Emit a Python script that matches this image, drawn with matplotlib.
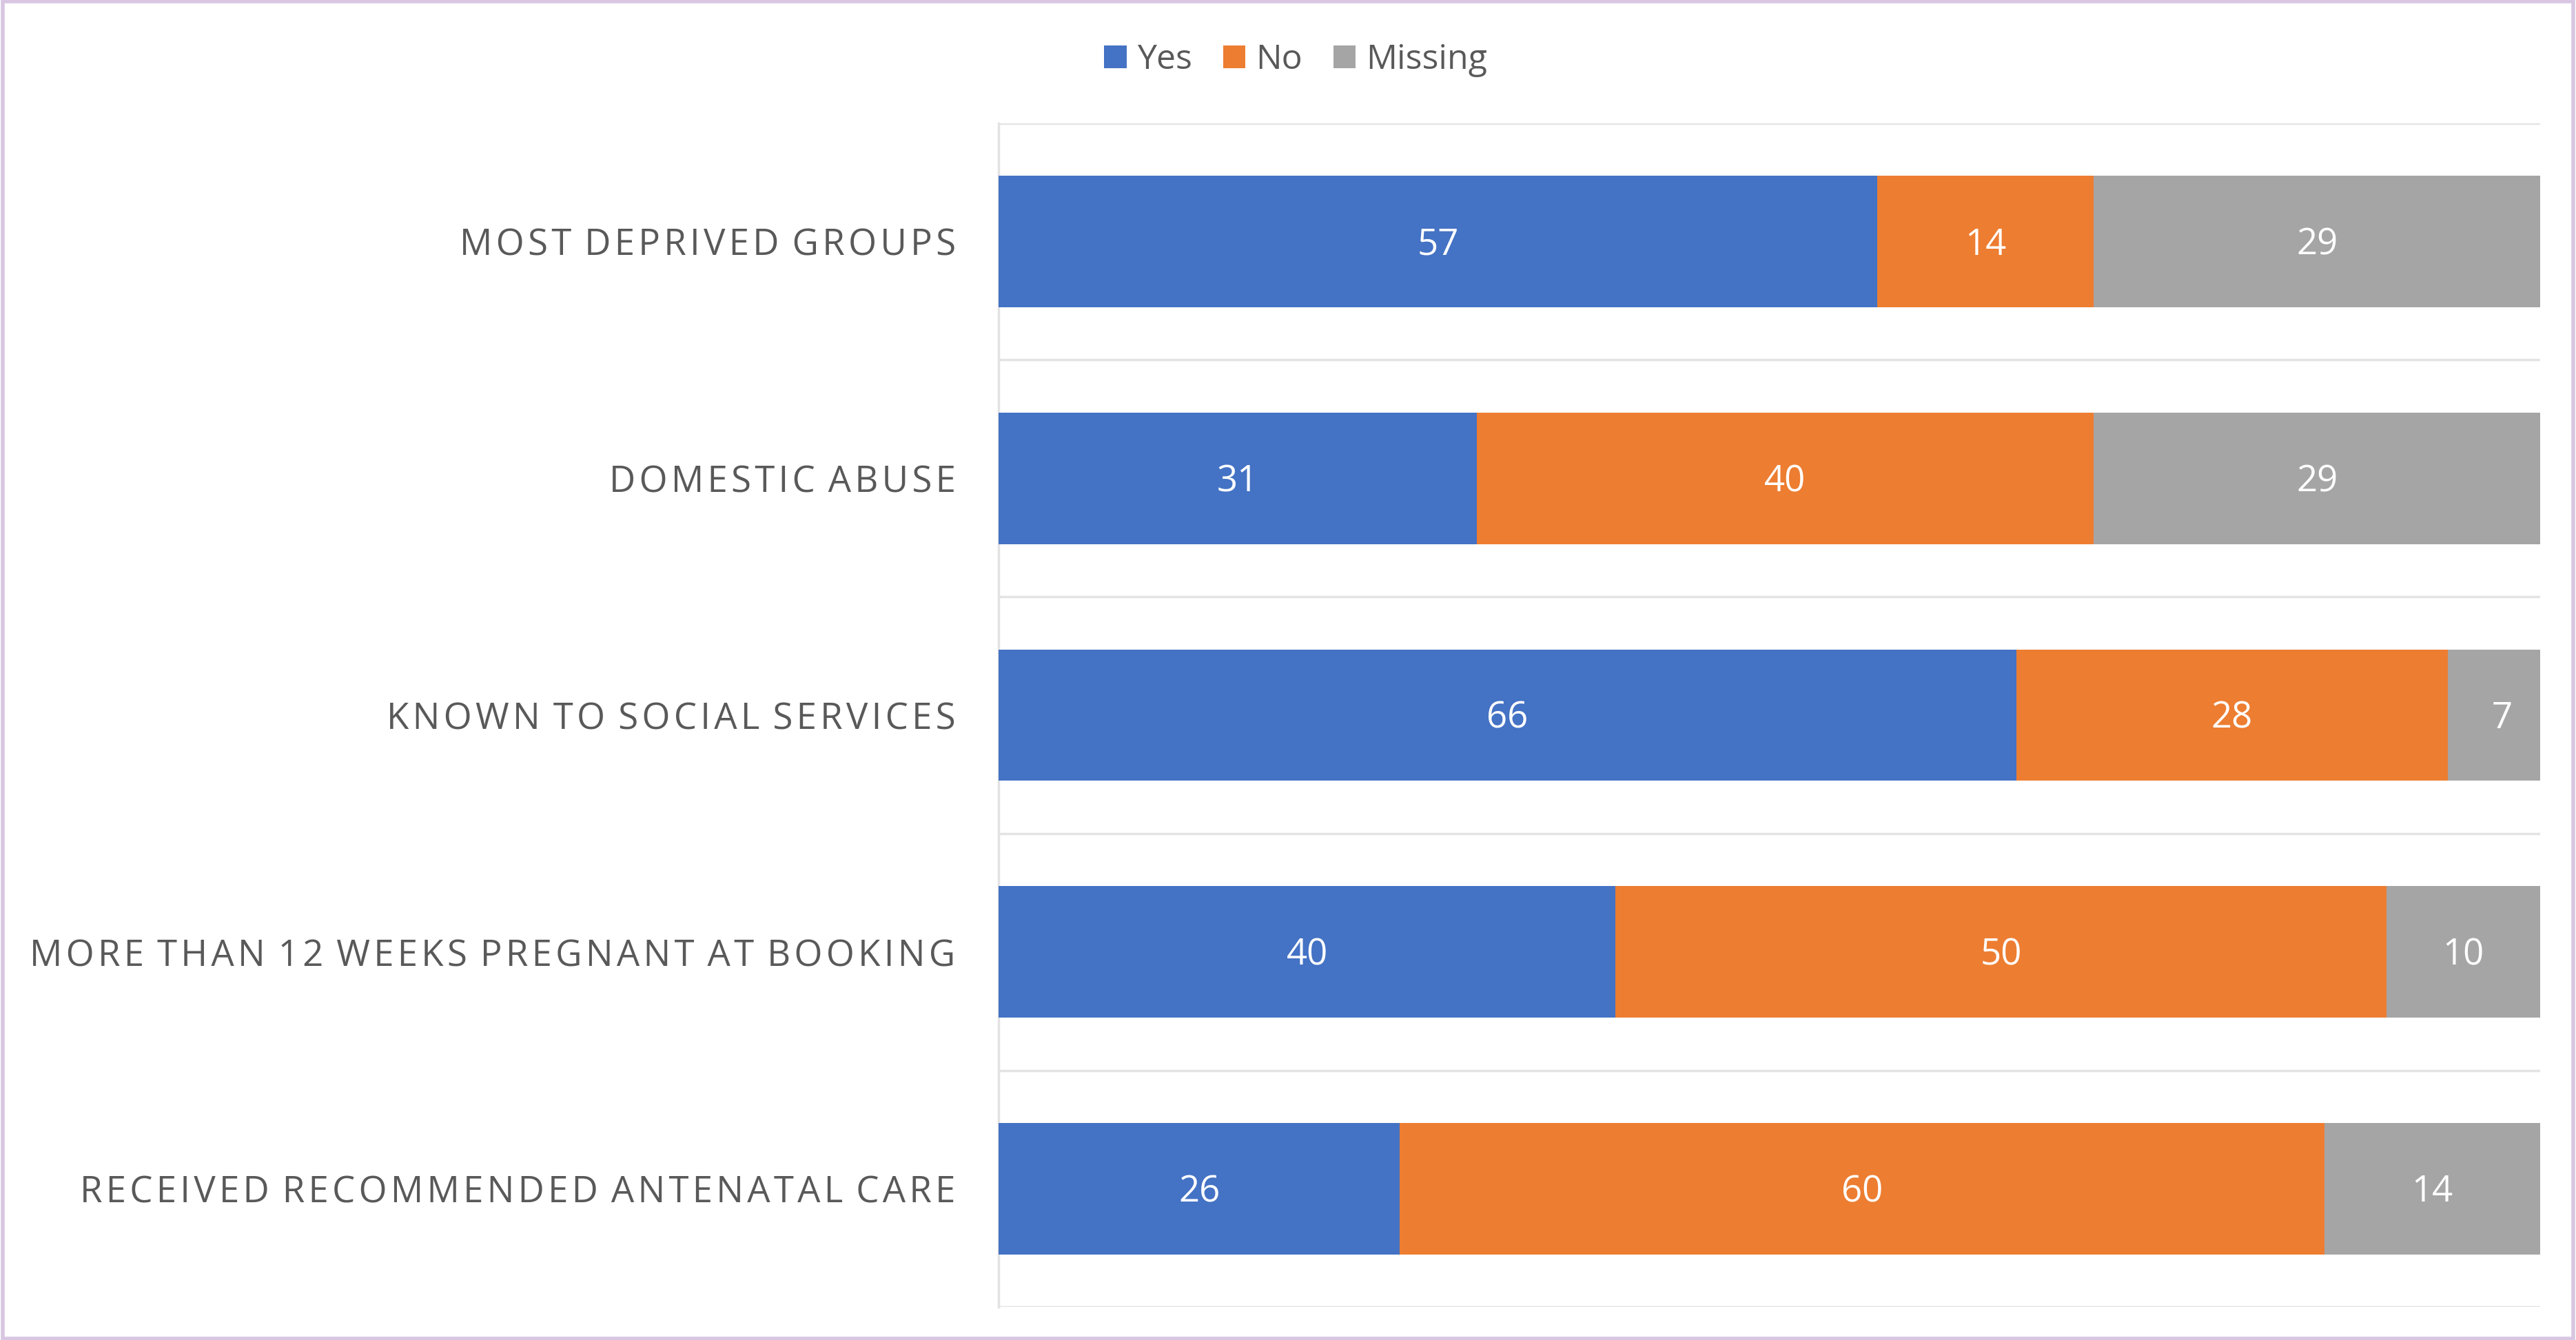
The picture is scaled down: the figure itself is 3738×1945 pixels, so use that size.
import matplotlib.pyplot as plt
from matplotlib.patches import Rectangle
import numpy as np

plt.rcParams['font.family'] = ['Open Sans', 'DejaVu Sans']

# Share of cases (%) per factor
categories = [
    "MOST DEPRIVED GROUPS",
    "DOMESTIC ABUSE",
    "KNOWN TO SOCIAL SERVICES",
    "MORE THAN 12 WEEKS PREGNANT AT BOOKING",
    "RECEIVED RECOMMENDED ANTENATAL CARE",
]
yes = [57, 31, 66, 40, 26]
no = [14, 40, 28, 50, 60]
missing = [29, 29, 7, 10, 14]

series = [("Yes", yes, "#4472C4"), ("No", no, "#ED7D31"), ("Missing", missing, "#A5A5A5")]
text_grey = "#595959"


def spaced(s):
    # loose tracking for the category captions
    return " \u200a".join("\u200a".join(word) for word in s.split(" "))


fig = plt.figure(figsize=(37.38, 19.45), dpi=100)
ax = fig.add_axes([0.3877, 0.0245, 0.5985, 0.8836])

y = np.arange(len(categories))
left = np.zeros(len(categories))
for name, vals, color in series:
    vals = np.array(vals, dtype=float)
    bars = ax.barh(y, vals, left=left, height=0.555, color=color, label=name, zorder=3)
    for rect, v in zip(bars, vals):
        ax.text(rect.get_x() + rect.get_width() / 2, rect.get_y() + rect.get_height() / 2 + 0.015,
                f"{v:g}", ha="center", va="center", color="white", fontsize=38, zorder=4)
    left += vals

ax.set_xlim(0, 100)
ax.set_ylim(len(categories) - 0.5, -0.5)

# category separators
for b in np.arange(len(categories) + 1) - 0.5:
    ax.axhline(b, color="#E3E3E3", linewidth=2.5, zorder=1)

ax.set_yticks(y)
ax.set_yticklabels([spaced(c) for c in categories], fontsize=38, color=text_grey)
ax.tick_params(axis="y", length=0, pad=45)
ax.set_xticks([])
for s in ["top", "right", "bottom"]:
    ax.spines[s].set_visible(False)
ax.spines["left"].set_color("#E3E3E3")
ax.spines["left"].set_linewidth(2.5)

fig.legend(loc="center", bbox_to_anchor=(0.503, 0.955), ncol=3, frameon=False,
           fontsize=36, handlelength=0.65, handleheight=0.65, handletextpad=0.3,
           columnspacing=0.9, labelcolor=text_grey)

# thin frame around the whole figure
fig.patches.append(Rectangle((0.001, 0.001), 0.998, 0.998, transform=fig.transFigure,
                             fill=False, edgecolor="#D8C6E2", linewidth=4))

fig.savefig("out.png", dpi=100)
